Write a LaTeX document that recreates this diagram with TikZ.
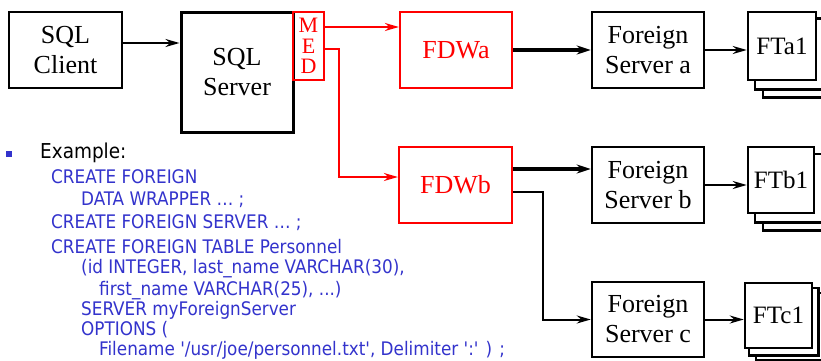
\documentclass[tikz,border=0pt]{standalone}
\usepackage{fontspec}
\setmainfont{Liberation Serif}
\newfontfamily\boxfont{Liberation Serif}
\newfontfamily\codefont{DejaVu Sans Condensed}
\usetikzlibrary{arrows.meta,backgrounds}
\definecolor{codeblue}{RGB}{51,51,204}
\definecolor{fdwred}{RGB}{255,0,0}
\begin{document}
\begin{tikzpicture}[x=1pt,y=-1pt,
  box/.style={draw, line width=2.5pt, inner sep=0pt, align=center,
    font=\boxfont\fontsize{26}{30}\selectfont, minimum width=112pt, minimum height=76pt},
  redbox/.style={box, draw=fdwred, text=fdwred, line width=2.2pt},
  ftbox/.style={draw, fill=white, line width=2.5pt, inner sep=0pt,
    font=\boxfont\fontsize{25}{30}\selectfont},
  shadowbox/.style={draw, fill=white, line width=2.5pt},
  medletter/.style={anchor=base, inner sep=0pt, text=fdwred, text height=15pt, text depth=0pt,
    font=\boxfont\fontsize{22}{20}\selectfont},
  arr/.style={-{Stealth[length=14pt,width=8pt]}, line width=2pt},
  thickarr/.style={-{Stealth[length=14pt,width=9pt]}, line width=3.2pt},
  redarr/.style={-{Stealth[length=14pt,width=8pt]}, line width=2pt, draw=fdwred},
  redline/.style={line width=2pt, draw=fdwred},
  codeline/.style={anchor=base west, inner sep=0pt, text=codeblue,
    font=\codefont\fontsize{18.7}{20}\selectfont}
]
\useasboundingbox (0,0) rectangle (821,361);
\clip (0,0) rectangle (821,361);

% main boxes
\node[box, minimum width=113pt] (client) at (65.5,50) {SQL\\Client};
\node[box, line width=3pt, minimum height=119pt] (server) at (237,72.5) {SQL\\Server};
\node[draw=fdwred, line width=2.2pt, inner sep=0pt,
  minimum width=31pt, minimum height=68pt] (med) at (308.5,46) {};
\node[medletter] (medm) at (308.5,33) {M};
\node[medletter] (mede) at (308.5,54) {E};
\node[medletter] (medd) at (308.5,74) {D};
\node[redbox] (fdwa) at (456,50) {FDWa};
\node[redbox, minimum width=113pt] (fdwb) at (455.5,185) {FDWb};
\node[box] (fsa) at (648,50) {Foreign\\Server a};
\node[box] (fsb) at (648,185) {Foreign\\Server b};
\node[box, minimum height=75pt] (fsc) at (648,319.5) {Foreign\\Server c};

% foreign tables
\node[ftbox, minimum width=68pt, minimum height=68pt] (fta) at (782,46) {FTa1};
\node[ftbox, minimum width=66pt, minimum height=66pt] (ftb) at (781,180) {FTb1};
\node[ftbox, minimum width=67pt, minimum height=65pt] (ftc) at (778.5,315.5) {FTc1};

\begin{scope}[on background layer]
  \draw[shadowbox] ([shift={(16,16)}]fta.north west) rectangle ([shift={(16,16)}]fta.south east);
  \draw[shadowbox] ([shift={(8,8)}]fta.north west) rectangle ([shift={(8,8)}]fta.south east);
  \draw[shadowbox] ([shift={(16,16)}]ftb.north west) rectangle ([shift={(16,16)}]ftb.south east);
  \draw[shadowbox] ([shift={(8,8)}]ftb.north west) rectangle ([shift={(8,8)}]ftb.south east);
  \draw[shadowbox] ([shift={(12,11)}]ftc.north west) rectangle ([shift={(12,11)}]ftc.south east);
  \draw[shadowbox] ([shift={(5,6)}]ftc.north west) rectangle ([shift={(5,6)}]ftc.south east);
\end{scope}

% connectors
\draw[arr] ([yshift=7pt]client.east) -- ([yshift=7pt]client.east -| server.west);
\draw[redarr] ([yshift=19pt]med.east) -- ([yshift=19pt]med.east -| fdwa.west);
\draw[redline, -{Stealth[length=14pt,width=8pt]}] ([yshift=-3pt]med.east) -- ++(14,0) |- ([yshift=8pt]fdwb.west);
\draw[thickarr] (fdwa.east) -- (fsa.west);
\draw[arr] (fsa.east) -- (fsa.east -| fta.west);
\draw[thickarr] ([yshift=16pt]fdwb.east) -- ([yshift=16pt]fdwb.east -| fsb.west);
\draw[arr] ([yshift=-7pt]fdwb.east) -- ++(30,0) |- (fsc.west);
\draw[arr] (fsb.east) -- (fsb.east -| ftb.west);
\draw[arr] (fsc.east) -- (fsc.east -| ftc.west);

% example text
\node[fill=codeblue, minimum size=6pt, inner sep=0pt] (bullet) at (8.5,154) {};
\node[anchor=base west, inner sep=0pt, font=\codefont\fontsize{20.5}{20}\selectfont] (ex) at (40,158) {Example:};
\node[codeline] (l1) at (51,183) {CREATE FOREIGN};
\node[codeline] (l2) at (81,205) {DATA WRAPPER … ;};
\node[codeline] (l3) at (51,228) {CREATE FOREIGN SERVER … ;};
\node[codeline] (l4) at (51,253) {CREATE FOREIGN TABLE Personnel};
\node[codeline] (l5) at (81,273) {(id INTEGER, last\_name VARCHAR(30),};
\node[codeline] (l6) at (99,295) {first\_name VARCHAR(25), ...)};
\node[codeline] (l7) at (81,315) {SERVER myForeignServer};
\node[codeline] (l8) at (81,335) {OPTIONS (};
\node[codeline] (l9) at (99,355) {Filename '/usr/joe/personnel.txt', Delimiter ':' ) ;};
\end{tikzpicture}
\end{document}
